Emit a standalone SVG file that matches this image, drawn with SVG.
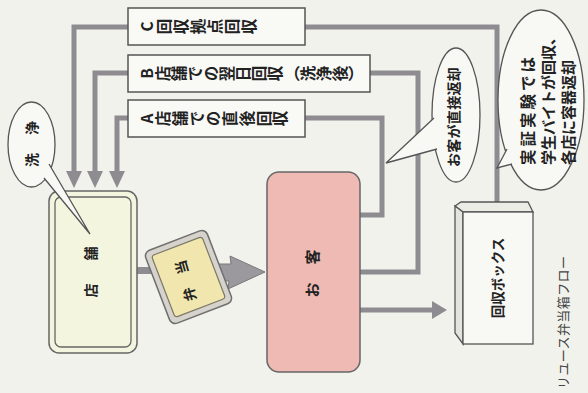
<svg xmlns="http://www.w3.org/2000/svg" width="588" height="393" viewBox="0 0 588 393">
<style>
.t{font-family:"Noto Sans CJK JP","Noto Sans",sans-serif;fill:#222;font-weight:bold}
.v{writing-mode:vertical-rl;text-orientation:upright}
.lbl{font-size:15.5px}
.box{fill:#f9f9f6;stroke:#555;stroke-width:1.5}
.ln{fill:none;stroke:#8f8c91;stroke-width:5;stroke-linejoin:miter}
.ah{fill:#8f8c91}
.bub{fill:#f8f9f5;stroke:#555;stroke-width:1.3}
.tail{fill:#f8f9f5;stroke:#555;stroke-width:1.3;stroke-linejoin:miter}
</style>
<rect x="0" y="0" width="588" height="393" fill="#f1f2ec"/>

<g id="connectors">
  <path class="ln" d="M74,172 V27 H497 V202"/>
  <path class="ln" d="M95,172 V73 H418 V272 H360"/>
  <path class="ln" d="M117,172 V118 H382 V215 H360"/>
  <polygon class="ah" points="66,171 82,171 74,188"/>
  <polygon class="ah" points="87,171 103,171 95,188"/>
  <polygon class="ah" points="109,171 125,171 117,188"/>
  <rect x="137" y="267" width="16" height="7" fill="#8f8c91"/>
  <polygon points="200,264 231,264 230,256 265,272 228,289 229,281 200,281" fill="#9c999e" stroke="#7a777c" stroke-width="1"/>
  <path class="ln" d="M360,310 H434"/>
  <polygon class="ah" points="432,301 447,310 432,319"/>
</g>

<g id="label-c">
  <rect class="box" x="128" y="8" width="177" height="37"/>
  <text class="t lbl v" x="139" y="26.5" transform="rotate(-90 139 26.5)" letter-spacing="1.5">C回収拠点回収</text>
</g>
<g id="label-b">
  <rect class="box" x="128" y="55" width="242" height="37"/>
  <text class="t lbl v" x="139" y="73.5" transform="rotate(-90 139 73.5)" letter-spacing="0.6">B店舗での翌日回収（洗浄後）</text>
</g>
<g id="label-a">
  <rect class="box" x="128" y="100" width="177" height="37"/>
  <text class="t lbl v" x="139" y="118.5" transform="rotate(-90 139 118.5)" letter-spacing="1.2">A店舗での直後回収</text>
</g>

<g id="store">
  <rect x="49" y="191" width="88" height="162" rx="10" fill="#f3f5df" stroke="#666" stroke-width="1.5"/>
  <rect x="55" y="197" width="76" height="150" rx="6" fill="none" stroke="#666" stroke-width="1.3"/>
  <text class="t" font-size="14" transform="translate(90,272) rotate(-90)" x="-18.5 18.5" y="0" text-anchor="middle" dominant-baseline="central">店舗</text>
</g>

<g id="wash-bubble">
  <ellipse class="bub" cx="31.5" cy="144.5" rx="23.5" ry="42.5"/>
  <path class="tail" d="M44,178 L90,234 L49,164"/>
  <text class="t" font-size="14" transform="translate(31,144) rotate(-90)" x="-16 16" y="0" text-anchor="middle" dominant-baseline="central">洗浄</text>
</g>

<g id="bento">
  <g transform="translate(188.5,277) rotate(-21)">
    <rect x="-33" y="-39" width="66" height="78" rx="6" fill="#d6d2cc" stroke="#6f6f6f" stroke-width="1.5"/>
    <rect x="-27" y="-33" width="54" height="66" rx="3" fill="#f0e6ae" stroke="#7a7868" stroke-width="1.2"/>
  </g>
  <text class="t" font-size="14" transform="translate(185,281) rotate(-106)" x="-14 14" y="0" text-anchor="middle" dominant-baseline="central">弁当</text>
</g>

<g id="customer">
  <rect x="267" y="172" width="93" height="200" rx="12" fill="#eebab3" stroke="#666" stroke-width="1.5"/>
  <text class="t" font-size="15" transform="translate(311,273) rotate(-90)" x="-17 16" y="0" text-anchor="middle" dominant-baseline="central">お客</text>
</g>

<g id="return-bubble">
  <ellipse class="bub" cx="456" cy="115" rx="24" ry="67"/>
  <path class="tail" d="M434,118 L386,163 L437,149"/>
  <text class="t" font-size="14" transform="translate(453,117) rotate(-90)" x="0" y="0" text-anchor="middle" dominant-baseline="central" letter-spacing="0.3">お客が直接返却</text>
</g>

<g id="note-bubble">
  <ellipse class="bub" cx="541" cy="100" rx="43" ry="90"/>
  <path class="tail" d="M507,149 L497,168 L512,164"/>
  <text class="t" font-size="15.5" transform="translate(527,165) rotate(-90)" x="0" y="0" dominant-baseline="central" letter-spacing="3">実証実験では</text>
  <text class="t" font-size="15" transform="translate(547.5,165) rotate(-90)" x="0" y="0" dominant-baseline="central" letter-spacing="0">学生バイトが回収、</text>
  <text class="t" font-size="15" transform="translate(567,165) rotate(-90)" x="0" y="0" dominant-baseline="central" letter-spacing="0">各店に容器返却</text>
</g>

<g id="collection-box">
  <polygon points="455,206 461,202 528,202 533,212 463,212" fill="#ecece6" stroke="#555" stroke-width="1.3"/>
  <polygon points="455,206 463,212 463,344 455,333" fill="#e4e4de" stroke="#555" stroke-width="1.3"/>
  <rect x="463" y="212" width="70" height="132" fill="#f8f8f4" stroke="#555" stroke-width="1.3"/>
  <text class="t" font-size="13.5" transform="translate(497,278) rotate(-90)" x="0" y="0" text-anchor="middle" dominant-baseline="central">回収ボックス</text>
</g>

<text class="t" font-size="13" style="font-weight:normal;fill:#444" transform="translate(562,389) rotate(-90)" x="0" y="0" dominant-baseline="central" letter-spacing="0.4">リユース弁当箱フロー</text>
</svg>
